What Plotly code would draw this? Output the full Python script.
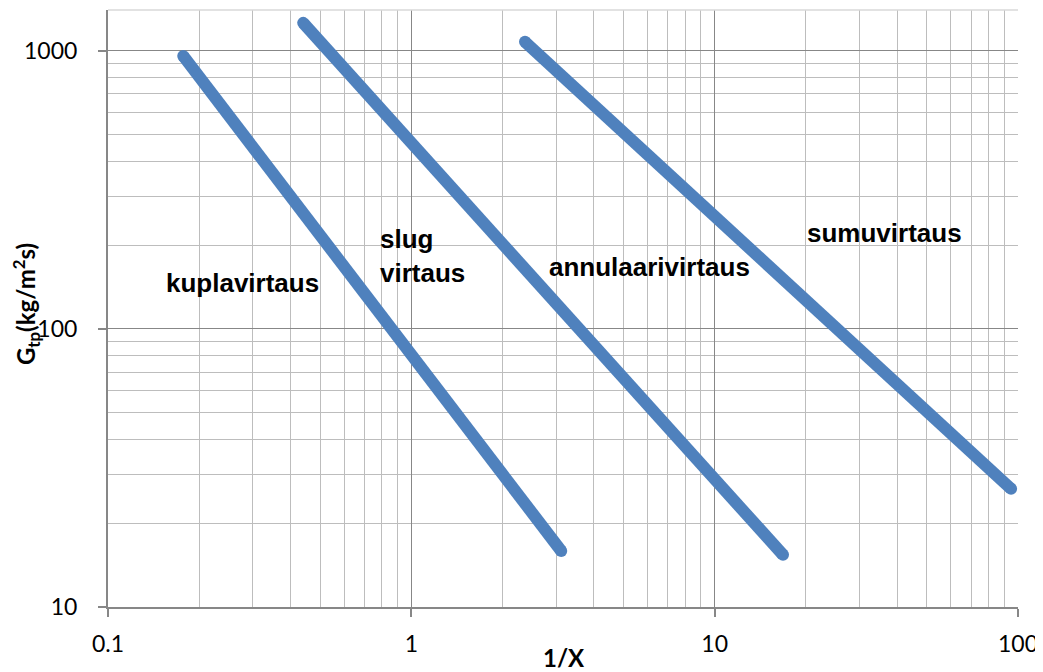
import math
import plotly.graph_objects as go

# Boundary lines between flow regimes (1/X, G_tp)
kupla_slug_x = [0.177, 3.12]
kupla_slug_y = [959, 15.9]
slug_annular_x = [0.44, 16.8]
slug_annular_y = [1261, 15.4]
annular_sumu_x = [2.37, 94.9]
annular_sumu_y = [1078, 26.6]

region_labels = ["kuplavirtaus", "slug<br>virtaus", "annulaarivirtaus", "sumuvirtaus"]
label_x = [0.2767, 0.777, 2.80, 19.9]
label_y = [146, 183, 167, 221]
label_anchor = ["center", "left", "left", "left"]

x_tickvals = [0.1, 1, 10, 100]
x_ticktext = ["0.1", "1", "10", "100"]
y_tickvals = [10, 100, 1000]
y_ticktext = ["10", "100", "1000"]

x_title = "1/X"
y_title = "G<sub>tp</sub>(kg/m<sup>2</sup>s)"

LINE_COLOR = "#4F81BD"
MAJOR_GRID = "#878787"
MINOR_GRID = "#bdbdbd"
TICK_FONT = dict(family="Lato, Liberation Sans, sans-serif", size=23, color="#000000")
TITLE_FONT = dict(family="Lato, Liberation Sans, sans-serif", size=24, color="#000000")

fig = go.Figure()
for xs, ys in [(kupla_slug_x, kupla_slug_y), (slug_annular_x, slug_annular_y), (annular_sumu_x, annular_sumu_y)]:
    fig.add_trace(go.Scatter(
        x=xs, y=ys, mode="lines+markers",
        line=dict(color=LINE_COLOR, width=12),
        marker=dict(color=LINE_COLOR, size=12),
        showlegend=False, hoverinfo="skip",
    ))

# log axes: annotation coordinates are given in log10 units
for txt, lx, ly, anc in zip(region_labels, label_x, label_y, label_anchor):
    fig.add_annotation(
        x=math.log10(lx), y=math.log10(ly), xref="x", yref="y", text="<b>" + txt + "</b>",
        showarrow=False, xanchor=anc, yanchor="middle", align="left",
        font=dict(family="Liberation Sans, Arial, sans-serif", size=26, color="#000000"),
    )

# axis titles
fig.add_annotation(x=0.501, y=-0.0838, xref="paper", yref="paper", text="<b>" + x_title + "</b>",
                   showarrow=False, xanchor="center", yanchor="middle", font=TITLE_FONT)
fig.add_annotation(x=-0.09, y=0.5075, xref="paper", yref="paper", text="<b>" + y_title + "</b>",
                   showarrow=False, xanchor="center", yanchor="middle", textangle=-90, font=TITLE_FONT)

fig.add_shape(type="line", xref="paper", yref="paper", x0=0, x1=1, y0=1, y1=1,
              line=dict(color="#d9d9d9", width=1.5))

axis_common = dict(
    type="log", tickmode="array",
    showgrid=True, gridcolor=MAJOR_GRID, gridwidth=1,
    minor=dict(dtick="D1", showgrid=True, gridcolor=MINOR_GRID, gridwidth=1.2, ticks=""),
    showline=True, linecolor=MAJOR_GRID, linewidth=2,
    ticks="outside", ticklen=8, tickcolor=MAJOR_GRID, tickwidth=1.5,
    tickfont=TICK_FONT, zeroline=False, automargin=False,
)

# the page body adds an 8px offset, so the figure is 8px smaller on the left/top
fig.update_layout(
    width=1035, height=664,
    margin=dict(l=100, r=25, t=2, b=65),
    paper_bgcolor="white", plot_bgcolor="white",
    xaxis=dict(axis_common, range=[-1, 2], tickvals=x_tickvals, ticktext=x_ticktext, ticklabelstandoff=7),
    yaxis=dict(axis_common, range=[1, 3.147], tickvals=y_tickvals, ticktext=y_ticktext, ticklabelstandoff=16),
)

fig.write_html("out.html")
